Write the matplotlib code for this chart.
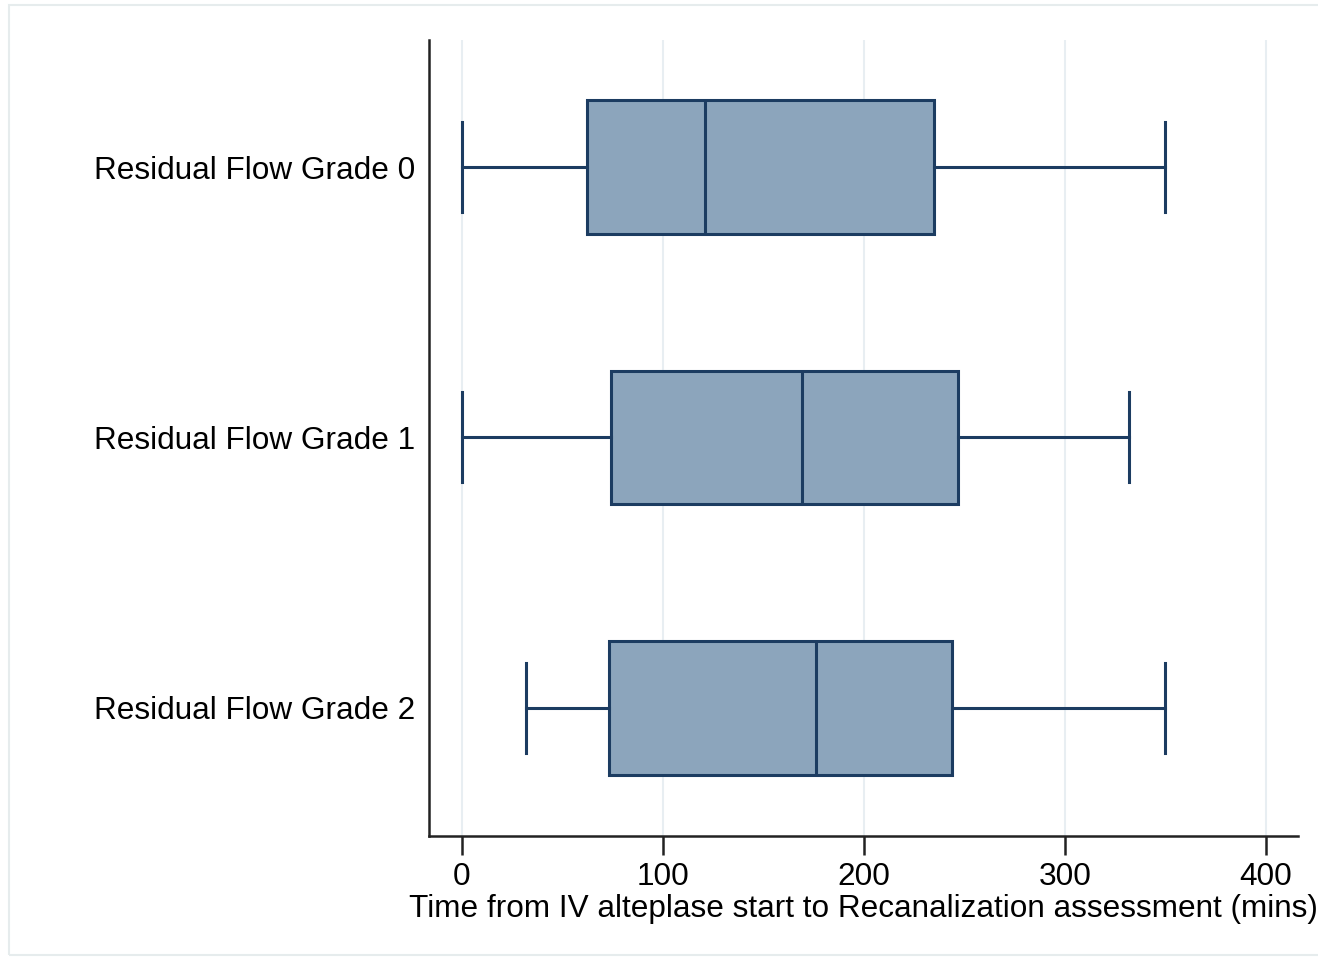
import matplotlib
matplotlib.use('Agg')
import matplotlib.pyplot as plt
from matplotlib.patches import Rectangle

plt.rcParams['font.family'] = ['Liberation Sans', 'DejaVu Sans']

groups = ["Residual Flow Grade 0", "Residual Flow Grade 1", "Residual Flow Grade 2"]
whislo = [0, 0, 32]
q1 = [62, 74, 73]
med = [121, 169, 176]
q3 = [235, 247, 244]
whishi = [350, 332, 350]

box_fill = '#8ca5bc'
box_edge = '#1c3c61'

fig = plt.figure(figsize=(13.18, 9.65), dpi=100)
fig.patches.append(Rectangle((0.007, 0.01), 1.2, 0.985, transform=fig.transFigure,
                             fill=False, edgecolor='#e6eced', linewidth=1.5))
ax = fig.add_axes([429 / 1318, 1 - 836 / 965, (1298 - 429) / 1318, (836 - 40) / 965])

stats = []
for i in range(len(groups)):
    stats.append({'whislo': whislo[i], 'q1': q1[i], 'med': med[i],
                  'q3': q3[i], 'whishi': whishi[i], 'fliers': [], 'label': groups[i]})

pos = [1, 2, 3]
ax.bxp(stats, positions=pos, vert=False, widths=0.495, capwidths=0.333,
       showfliers=False, patch_artist=True,
       boxprops=dict(facecolor=box_fill, edgecolor=box_edge, linewidth=2.2),
       medianprops=dict(color=box_edge, linewidth=2.2),
       whiskerprops=dict(color=box_edge, linewidth=2.2),
       capprops=dict(color=box_edge, linewidth=2.2))

ax.set_xlim(-16.4, 416)
ax.set_ylim(3.474, 0.53)
ax.set_xticks([0, 100, 200, 300, 400])
ax.set_yticks(pos)
ax.set_yticklabels(groups)
ax.grid(axis='x', color='#e8eef2', linewidth=1.5)
ax.set_axisbelow(True)

for s in ['top', 'right']:
    ax.spines[s].set_visible(False)
for s in ['left', 'bottom']:
    ax.spines[s].set_linewidth(1.8)
    ax.spines[s].set_color('#222222')

ax.tick_params(axis='x', length=14, width=1.8, color='#222222', labelsize=22.7, pad=5)
ax.tick_params(axis='y', length=0, labelsize=22.7, pad=10)
for t in ax.get_yticklabels():
    t.set_y(t.get_position()[1])
ax.set_xlabel('Time from IV alteplase start to Recanalization assessment (mins)',
              fontsize=22.7, labelpad=1)

fig.savefig('out.png', dpi=100)
